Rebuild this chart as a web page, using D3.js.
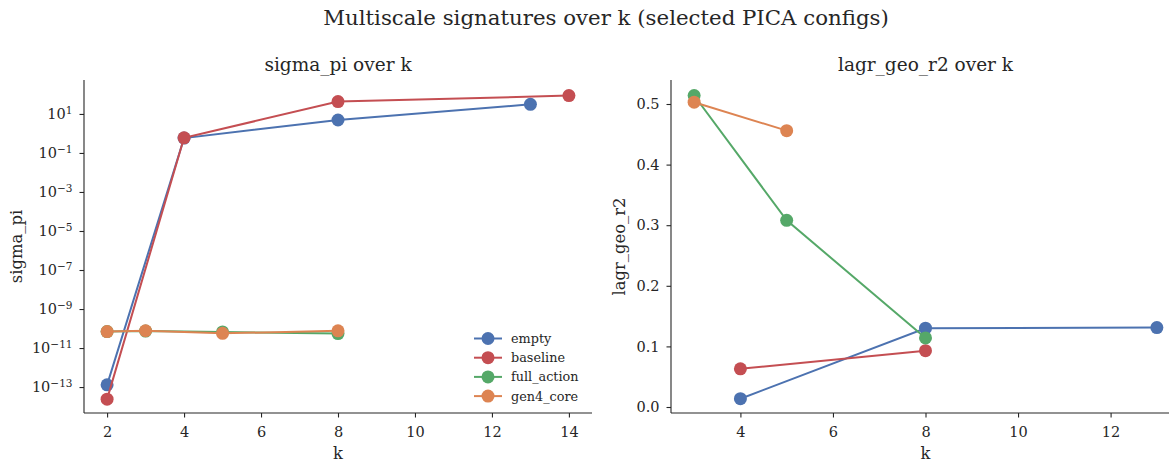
<!DOCTYPE html>
<html>
<head>
<meta charset="utf-8">
<script src="https://cdn.jsdelivr.net/npm/d3@7"></script>
<style>
  body { margin: 0; background: #fff; }
  text { font-family: "DejaVu Serif", serif; fill: #262626; }
</style>
</head>
<body>
<svg id="chart" width="1169" height="462"></svg>
<script>
// Series names and colours
const seriesNames = ["empty", "baseline", "full_action", "gen4_core"];
const seriesColors = ["#4c72b0", "#c44e52", "#55a868", "#dd8452"];

// sigma_pi per configuration (k, value)
const sigmaK = [
  [2, 4, 8, 13],
  [2, 4, 8, 14],
  [2, 3, 5, 8],
  [2, 3, 5, 8]
];
const sigmaVals = [
  [1.3e-13, 0.58, 4.9, 31],
  [2.4e-14, 0.60, 43, 87],
  [7.0e-11, 7.4e-11, 6.7e-11, 5.5e-11],
  [7.0e-11, 7.7e-11, 5.7e-11, 7.6e-11]
];

// lagr_geo_r2 per configuration (k, value)
const lagrK = [
  [4, 8, 13],
  [4, 8],
  [3, 5, 8],
  [3, 5]
];
const lagrVals = [
  [0.0137, 0.130, 0.131],
  [0.063, 0.093],
  [0.514, 0.308, 0.114],
  [0.503, 0.456]
];

const sigmaTicksX = [2, 4, 6, 8, 10, 12, 14];
const sigmaTickExps = [1, -1, -3, -5, -7, -9, -11, -13];
const lagrTicksX = [4, 6, 8, 10, 12];
const lagrTicksY = [0.0, 0.1, 0.2, 0.3, 0.4, 0.5];

const svg = d3.select("#chart");
const axisColor = "#262626";
const tickFont = "14.5px";

svg.append("text")
  .attr("x", 606).attr("y", 25)
  .attr("text-anchor", "middle")
  .style("font-size", "21.3px")
  .text("Multiscale signatures over k (selected PICA configs)");

function styleAxis(g) {
  g.select(".domain").attr("stroke", axisColor).attr("stroke-width", 1.1);
  g.selectAll(".tick line").attr("stroke", axisColor).attr("stroke-width", 1.1);
  g.selectAll(".tick text").style("font-size", tickFont).attr("fill", "#262626");
}

function drawPanel(opts) {
  const { x, y, ks, vals, title, ylabel, xTicks, yTicks, yFormat, superscript } = opts;
  const [x0, x1] = x.range();
  const [yb, yt] = y.range();
  const g = svg.append("g");

  // series lines and markers
  ks.forEach((kArr, i) => {
    const pts = kArr.map((k, j) => [k, vals[i][j]]);
    g.append("path")
      .datum(pts)
      .attr("fill", "none")
      .attr("stroke", seriesColors[i])
      .attr("stroke-width", 2)
      .attr("d", d3.line().x(d => x(d[0])).y(d => y(d[1])));
    g.selectAll(null).data(pts).enter().append("circle")
      .attr("cx", d => x(d[0])).attr("cy", d => y(d[1]))
      .attr("r", 6.5)
      .attr("fill", seriesColors[i]);
  });

  const gx = svg.append("g").attr("transform", `translate(0,${yb})`)
    .call(d3.axisBottom(x).tickValues(xTicks).tickSize(4.5).tickPadding(9.5).tickFormat(d3.format("d")));
  styleAxis(gx);
  gx.select(".domain").attr("d", `M${x0},0H${Math.min(x1, 1169)}`);

  const gy = svg.append("g").attr("transform", `translate(${x0},0)`)
    .call(d3.axisLeft(y).tickValues(yTicks).tickSize(4.5).tickPadding(7).tickFormat(yFormat));
  styleAxis(gy);
  gy.select(".domain").attr("d", `M0,${yb}V${yt}`);

  if (superscript) {
    gy.selectAll(".tick text").each(function(d) {
      const t = d3.select(this);
      const e = Math.round(Math.log10(d));
      t.text(null);
      t.append("tspan").text("10");
      t.append("tspan").attr("dy", "-0.5em").style("font-size", "10.5px")
        .text(e < 0 ? "\u2212" + (-e) : String(e));
    });
  }

  svg.append("text")
    .attr("x", (x0 + x1) / 2).attr("y", 70.5)
    .attr("text-anchor", "middle")
    .style("font-size", "18.5px")
    .text(title);

  svg.append("text")
    .attr("x", (x0 + x1) / 2).attr("y", 459)
    .attr("text-anchor", "middle")
    .style("font-size", "16.4px")
    .text("k");

  svg.append("text")
    .attr("transform", `translate(${opts.ylabelX},${(yb + yt) / 2}) rotate(-90)`)
    .attr("text-anchor", "middle")
    .style("font-size", "16.4px")
    .text(ylabel);
}

// Left panel: sigma_pi on a log scale
const xL = d3.scaleLinear().domain([1.4, 14.6]).range([84, 592]);
const yL = d3.scaleLog().domain([Math.pow(10, -14.33), Math.pow(10, 2.74)]).range([413, 80]);
drawPanel({
  x: xL, y: yL, ks: sigmaK, vals: sigmaVals,
  title: "sigma_pi over k", ylabel: "sigma_pi", ylabelX: 22,
  xTicks: sigmaTicksX, yTicks: sigmaTickExps.map(e => Math.pow(10, e)),
  yFormat: d => String(d), superscript: true
});

// Right panel: lagr_geo_r2 on a linear scale
const xR = d3.scaleLinear().domain([2.5, 13.5]).range([671, 1180]);
const yR = d3.scaleLinear().domain([-0.0099, 0.5396]).range([413, 80]);
drawPanel({
  x: xR, y: yR, ks: lagrK, vals: lagrVals,
  title: "lagr_geo_r2 over k", ylabel: "lagr_geo_r2", ylabelX: 625,
  xTicks: lagrTicksX, yTicks: lagrTicksY,
  yFormat: d3.format(".1f"), superscript: false
});

// Legend in the lower right of the left panel
const legend = svg.append("g").attr("transform", "translate(474,338.5)");
seriesNames.forEach((name, i) => {
  const row = legend.append("g").attr("transform", `translate(0,${i * 19.2})`);
  row.append("line").attr("x1", 0).attr("x2", 28).attr("y1", 0).attr("y2", 0)
    .attr("stroke", seriesColors[i]).attr("stroke-width", 2);
  row.append("circle").attr("cx", 14).attr("cy", 0).attr("r", 6.5).attr("fill", seriesColors[i]);
  row.append("text").attr("x", 37).attr("y", 4.5).style("font-size", "12.8px").text(name);
});
</script>
</body>
</html>
